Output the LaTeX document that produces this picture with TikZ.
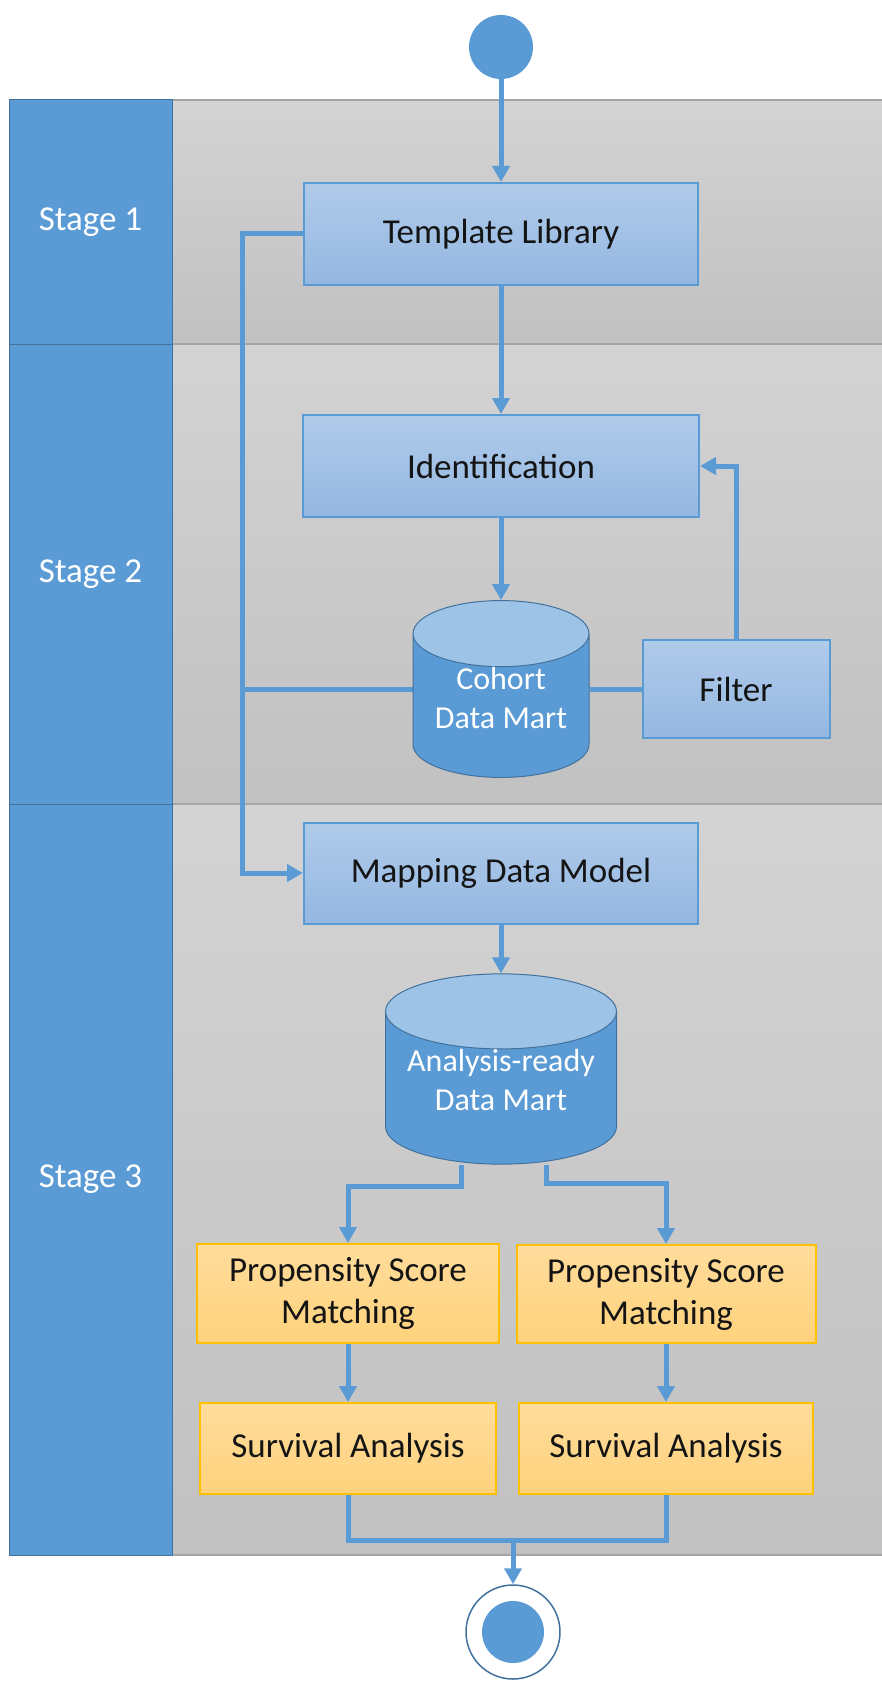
\documentclass[tikz,border=0pt]{standalone}
\usepackage{fontspec}
\setmainfont{Carlito}
\usetikzlibrary{arrows.meta,shapes.geometric,backgrounds}

\definecolor{laneblue}{HTML}{5B9BD5}
\definecolor{edgeblue}{HTML}{41719C}
\definecolor{boxtop}{HTML}{B0CBEA}
\definecolor{boxbot}{HTML}{94B7E1}
\definecolor{cyltop}{HTML}{9DC3E6}
\definecolor{goldtop}{HTML}{FFDC9C}
\definecolor{goldbot}{HTML}{FFD27C}
\definecolor{gold}{HTML}{FFC000}
\definecolor{lanetop}{HTML}{D3D3D3}
\definecolor{lanebot}{HTML}{C1C1C1}
\definecolor{laneline}{HTML}{A5A5A5}

\begin{document}
\begin{tikzpicture}[x=1pt,y=-1pt,
    flow/.style={line width=5pt,draw=laneblue},
    arr/.style={flow,-{Triangle[length=16pt,width=17pt]}},
    act/.style={draw=laneblue,line width=2pt,top color=boxtop,bottom color=boxbot,inner sep=0pt,text=black!92,align=center,font=\fontsize{35}{42}\selectfont},
    res/.style={act,draw=gold,top color=goldtop,bottom color=goldbot},
    db/.style={cylinder,shape border rotate=90,aspect=0.5,anchor=shape center,draw=edgeblue,line width=1pt,cylinder uses custom fill,cylinder body fill=laneblue,cylinder end fill=cyltop,inner sep=0pt,text depth=16pt,text=white,align=center,font=\fontsize{32}{39}\selectfont},
    stage/.style={draw=edgeblue,line width=1pt,fill=laneblue,text=white,minimum width=163pt,inner sep=0pt,font=\fontsize{35}{42}\selectfont}]
          \useasboundingbox (0,0) rectangle (881,1685);

          \node[stage,minimum height=244pt] (H1) at (90.5,222) {Stage 1};
          \node[stage,minimum height=460pt] (H2) at (90.5,574) {Stage 2};
          \node[stage,minimum height=751pt] (H3) at (90.5,1179.5) {Stage 3};

          \node[circle,fill=laneblue,minimum size=64pt,inner sep=0pt] (S) at (501,47) {};
          \node[act,minimum width=394pt,minimum height=102pt] (T) at (501,234) {Template Library};
          \node[act,minimum width=396pt,minimum height=102pt] (I) at (501,466) {Identification};
          \node[db,minimum width=176pt,minimum height=172pt] (C) at (501,689) {Cohort\\Data Mart};
          \node[act,minimum width=187pt,minimum height=98pt] (F) at (736,689) {Filter};
          \node[act,minimum width=394pt,minimum height=101pt] (M) at (501,873) {Mapping Data Model};
          \node[db,aspect=0.4,minimum width=231pt,minimum height=188pt] (D) at (501,1069) {Analysis-ready\\Data Mart};
          \node[res,minimum width=302pt,minimum height=99pt] (P1) at (348,1293.5) {Propensity Score\\Matching};
          \node[res,minimum width=299pt,minimum height=98pt] (P2) at (666,1294) {Propensity Score\\Matching};
          \node[res,minimum width=296pt,minimum height=91pt] (V1) at (348,1448.5) {Survival Analysis};
          \node[res,minimum width=294pt,minimum height=91pt] (V2) at (666,1448.5) {Survival Analysis};
          \node[circle,draw=edgeblue,line width=1.5pt,fill=white,minimum size=94pt,inner sep=0pt] (E) at (513,1632) {};
          \node[circle,fill=laneblue,minimum size=62pt,inner sep=0pt] (Ei) at (E) {};

          \coordinate (J) at (242,689);
          \coordinate (K1) at (348,1186);
          \coordinate (K2) at (666,1183);
          \coordinate (K3) at (513,1540);

          \begin{pgfonlayer}{background}
            \shade[top color=lanetop,bottom color=lanebot,draw=laneline,line width=1.5pt] (172,100) rectangle (883,344);
            \shade[top color=lanetop,bottom color=lanebot,draw=laneline,line width=1.5pt] (172,344) rectangle (883,804);
            \shade[top color=lanetop,bottom color=lanebot,draw=laneline,line width=1.5pt] (172,804) rectangle (883,1555);

            \draw[arr] (S) -- (T);
            \draw[arr] (T) -- (I);
            \draw[arr] (I) -- (C.north);
            \draw[flow] (C.shape center -| C.east) -- (F.west);
            \draw[arr] (F.north) |- (I.east);
            \draw[arr] (T.west) -| (J) |- (M.west);
            \draw[flow] (C.shape center -| C.west) -- (J);
            \draw[arr] (M) -- (D.north);
            \draw[arr] ([xshift=-40pt]D.south) |- (K1) -- (P1.north);
            \draw[arr] ([xshift=45pt]D.south) |- (K2) -- (P2.north);
            \draw[arr] (P1) -- (V1);
            \draw[arr] (P2) -- (V2);
            \draw[flow] (V1.south) |- (K3) -| (V2.south);
            \draw[arr] (K3) -- (E);
          \end{pgfonlayer}
        \end{tikzpicture}
\end{document}
